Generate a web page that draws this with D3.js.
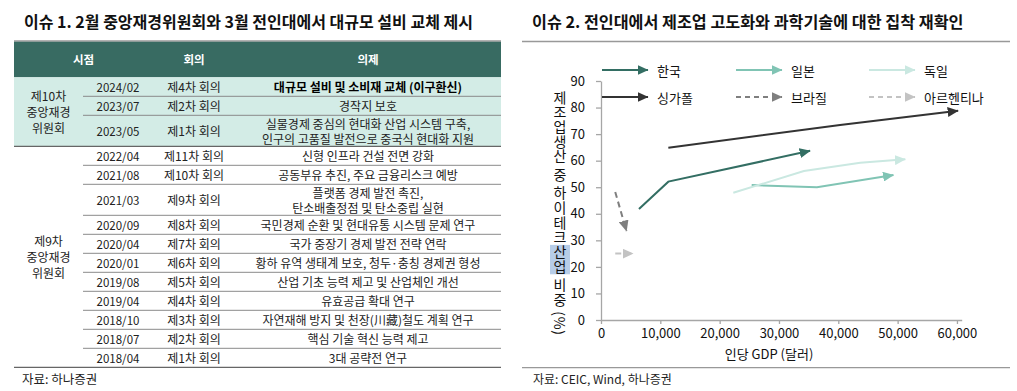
<!DOCTYPE html>
<html>
<head>
<meta charset="utf-8">
<script src="https://d3js.org/d3.v7.min.js"></script>
<style>
  body { margin: 0; background: #fff; }
  svg text { font-family: "Noto Sans CJK KR", sans-serif; }
</style>
</head>
<body>
<svg id="page" width="1017" height="391"></svg>
<script>
// ---------- table data ----------
var headers = ["시점", "회의", "의제"];
var groupLabels = ["제10차\n중앙재경\n위원회", "제9차\n중앙재경\n위원회"];
var rowGroup = [0, 0, 0, 1, 1, 1, 1, 1, 1, 1, 1, 1, 1, 1];
var dates = ["2024/02", "2023/07", "2023/05", "2022/04", "2021/08", "2021/03", "2020/09",
             "2020/04", "2020/01", "2019/08", "2019/04", "2018/10", "2018/07", "2018/04"];
var meetings = ["제4차 회의", "제2차 회의", "제1차 회의", "제11차 회의", "제10차 회의", "제9차 회의", "제8차 회의",
                "제7차 회의", "제6차 회의", "제5차 회의", "제4차 회의", "제3차 회의", "제2차 회의", "제1차 회의"];
var agenda = [
  "대규모 설비 및 소비재 교체 (이구환신)",
  "경작지 보호",
  "실물경제 중심의 현대화 산업 시스템 구축,\n인구의 고품질 발전으로 중국식 현대화 지원",
  "신형 인프라 건설 전면 강화",
  "공동부유 추진, 주요 금융리스크 예방",
  "플랫폼 경제 발전 촉진,\n탄소배출정점 및 탄소중립 실현",
  "국민경제 순환 및 현대유통 시스템 문제 연구",
  "국가 중장기 경제 발전 전략 연락",
  "황하 유역 생태계 보호, 청두·충칭 경제권 형성",
  "산업 기초 능력 제고 및 산업체인 개선",
  "유효공급 확대 연구",
  "자연재해 방지 및 천장(川藏)철도 계획 연구",
  "핵심 기술 혁신 능력 제고",
  "3대 공략전 연구"
];

// ---------- chart data: [1인당 GDP, 하이테크 비중] ----------
var korea     = [[6400, 41.8], [11350, 52.1], [35250, 63.7]];
var japan     = [[25400, 50.8], [36400, 50.0], [49300, 54.6]];
var germany   = [[22300, 47.9], [34200, 56.1], [43700, 59.2], [51300, 60.5]];
var singapore = [[11350, 64.9], [40300, 73.4], [60200, 78.8]];
var brazil    = [[2400, 48.2], [4300, 33.5]];
var argentina = [[2400, 25.0], [5400, 25.0]];
var yTicks = [0, 10, 20, 30, 40, 50, 60, 70, 80, 90];
var xTicks = [0, 10000, 20000, 30000, 40000, 50000, 60000];

var svg = d3.select("#page");

// ================= left: table =================
svg.append("text").attr("x", 24).attr("y", 28)
    .style("font-size", "16px").style("font-weight", "bold").attr("fill", "#111")
    .text("이슈 1. 2월 중앙재경위원회와 3월 전인대에서 대규모 설비 교체 제시");

var tL = 14, tR = 501, grpR = 83, dateR = 153, meetR = 235;
var headTop = 41, headBot = 77.3;

svg.append("line").attr("x1", tL).attr("x2", tR).attr("y1", headTop).attr("y2", headTop)
    .attr("stroke", "#999").attr("stroke-width", 1.5);
svg.append("rect").attr("x", tL).attr("y", headTop + 0.7).attr("width", tR - tL).attr("height", headBot - headTop - 0.7)
    .attr("fill", "#386b62");
var headX = [(tL + dateR) / 2, (dateR + meetR) / 2, (meetR + tR) / 2];
headers.forEach(function (h, i) {
    svg.append("text").attr("x", headX[i]).attr("y", (headTop + headBot) / 2)
        .attr("text-anchor", "middle").attr("dominant-baseline", "central")
        .style("font-size", "11.5px").style("font-weight", "bold").attr("fill", "#fff").text(h);
});

// row geometry from number of lines in the agenda text
var rows = [];
var yCur = headBot;
agenda.forEach(function (a, i) {
    var n = a.split("\n").length;
    var h = n > 1 ? 31 : 19;
    rows.push({ i: i, top: yCur, h: h, lines: a.split("\n") });
    yCur += h;
});

// highlighted section background
var g0 = rows.filter(function (r) { return rowGroup[r.i] === 0; });
var g0Bot = g0[g0.length - 1].top + g0[g0.length - 1].h;
svg.append("rect").attr("x", tL).attr("y", headBot).attr("width", tR - tL).attr("height", g0Bot - headBot)
    .attr("fill", "#d3ece6");

rows.forEach(function (r) {
    var cy = r.top + r.h / 2;
    svg.append("text").attr("x", (grpR + dateR) / 2).attr("y", cy)
        .attr("text-anchor", "middle").attr("dominant-baseline", "central")
        .style("font-size", "11.5px").attr("fill", "#222").text(dates[r.i]);
    svg.append("text").attr("x", (dateR + meetR) / 2).attr("y", cy)
        .attr("text-anchor", "middle").attr("dominant-baseline", "central")
        .style("font-size", "12px").attr("fill", "#222").text(meetings[r.i]);
    var t = svg.append("text").attr("text-anchor", "middle")
        .style("font-size", "12px").attr("fill", r.i === 0 ? "#000" : "#222")
        .style("font-weight", r.i === 0 ? "bold" : "normal");
    r.lines.forEach(function (ln, k) {
        t.append("tspan").attr("x", (meetR + tR) / 2)
            .attr("y", cy + (k - (r.lines.length - 1) / 2) * 15.5)
            .attr("dominant-baseline", "central").text(ln);
    });
    // bottom border of row
    var last = r.i === rows.length - 1;
    var sectionEnd = !last && rowGroup[r.i] !== rowGroup[r.i + 1];
    svg.append("line")
        .attr("x1", (last || sectionEnd) ? tL : grpR).attr("x2", tR)
        .attr("y1", r.top + r.h).attr("y2", r.top + r.h)
        .attr("stroke", (last || sectionEnd) ? "#666" : "#8a8a8a")
        .attr("stroke-width", (last || sectionEnd) ? 1.3 : 1);
});

// group labels
groupLabels.forEach(function (lbl, gi) {
    var rs = rows.filter(function (r) { return rowGroup[r.i] === gi; });
    var top = rs[0].top, bot = rs[rs.length - 1].top + rs[rs.length - 1].h;
    var lines = lbl.split("\n");
    var t = svg.append("text").attr("text-anchor", "middle")
        .style("font-size", "12px").attr("fill", "#222");
    lines.forEach(function (ln, k) {
        t.append("tspan").attr("x", (tL + grpR) / 2)
            .attr("y", (top + bot) / 2 + (k - (lines.length - 1) / 2) * 16)
            .attr("dominant-baseline", "central").text(ln);
    });
});

svg.append("text").attr("x", 22).attr("y", 384)
    .style("font-size", "12.5px").attr("fill", "#222").text("자료: 하나증권");

// ================= right: chart =================
svg.append("text").attr("x", 532).attr("y", 28)
    .style("font-size", "16.2px").style("font-weight", "bold").attr("fill", "#111")
    .text("이슈 2. 전인대에서 제조업 고도화와 과학기술에 대한 집착 재확인");
svg.append("line").attr("x1", 522).attr("x2", 1010).attr("y1", 41.5).attr("y2", 41.5)
    .attr("stroke", "#999").attr("stroke-width", 1.3);
svg.append("line").attr("x1", 522).attr("x2", 1010).attr("y1", 367.7).attr("y2", 367.7)
    .attr("stroke", "#999").attr("stroke-width", 1.3);
svg.append("text").attr("x", 533).attr("y", 384)
    .style("font-size", "12px").attr("fill", "#222").text("자료: CEIC, Wind, 하나증권");

var x = d3.scaleLinear().domain([0, 60800]).range([601, 961.7]);
var y = d3.scaleLinear().domain([0, 90]).range([320, 81]);

var yAxis = svg.append("g").attr("transform", "translate(601,0)")
    .call(d3.axisLeft(y).tickValues(yTicks).tickSize(5).tickSizeOuter(0).tickPadding(11));
var xAxis = svg.append("g").attr("transform", "translate(0,320)")
    .call(d3.axisBottom(x).tickValues(xTicks).tickFormat(d3.format(",")).tickSize(4).tickSizeOuter(0).tickPadding(5));
[yAxis, xAxis].forEach(function (ax) {
    ax.select(".domain").attr("stroke", "#a6a6a6").attr("stroke-width", 1.3);
    ax.selectAll(".tick line").attr("stroke", "#a6a6a6").attr("stroke-width", 1.3);
    ax.selectAll(".tick text").attr("fill", "#111").style("font-size", "13px")
        .style("font-family", "'Noto Sans CJK KR', sans-serif");
});

svg.append("text").attr("x", 769).attr("y", 353).attr("text-anchor", "middle")
    .attr("dominant-baseline", "central")
    .style("font-size", "13px").attr("fill", "#111").text("인당 GDP (달러)");

// vertical y-axis title
var yTitleBox = svg.append("g");
var yTitle = svg.append("text").attr("x", 560).attr("y", 213)
    .attr("text-anchor", "middle")
    .style("writing-mode", "vertical-rl")
    .style("letter-spacing", "0.7px")
    .style("font-size", "14px").attr("fill", "#111")
    .text("제조업생산 중 하이테크산업 비중 (%)");
try {
    var node = yTitle.node();
    var a = node.getExtentOfChar(12), b = node.getExtentOfChar(13);
    var x0 = Math.min(a.x, b.x), y0 = Math.min(a.y, b.y);
    var x1 = Math.max(a.x + a.width, b.x + b.width), y1 = Math.max(a.y + a.height, b.y + b.height);
    yTitleBox.append("rect").attr("x", x0).attr("y", y0).attr("width", x1 - x0).attr("height", y1 - y0)
        .attr("fill", "#b7cde8");
} catch (e) {}

// series
var series = [
    { name: "한국", data: korea, color: "#336e63", dash: null },
    { name: "일본", data: japan, color: "#80c4b4", dash: null },
    { name: "독일", data: germany, color: "#cae8e1", dash: null },
    { name: "싱가폴", data: singapore, color: "#333333", dash: null },
    { name: "브라질", data: brazil, color: "#7f7f7f", dash: "6,4" },
    { name: "아르헨티나", data: argentina, color: "#c3c3c3", dash: "6,4" }
];

var defs = svg.append("defs");
series.forEach(function (s, i) {
    defs.append("marker").attr("id", "arr" + i)
        .attr("viewBox", "0 0 11 10").attr("refX", 10.5).attr("refY", 5)
        .attr("markerWidth", 11).attr("markerHeight", 10)
        .attr("markerUnits", "userSpaceOnUse").attr("orient", "auto")
        .append("path").attr("d", "M0,0 L11,5 L0,10 Z").attr("fill", s.color);
});

var line = d3.line().x(function (d) { return x(d[0]); }).y(function (d) { return y(d[1]); });
series.forEach(function (s, i) {
    svg.append("path").datum(s.data).attr("d", line)
        .attr("fill", "none").attr("stroke", s.color).attr("stroke-width", 2)
        .attr("stroke-dasharray", s.dash)
        .attr("marker-end", "url(#arr" + i + ")");
});

// legend
var legX = [602, 736, 869], legY = [70, 97];
series.forEach(function (s, i) {
    var lx = legX[i % 3], ly = legY[Math.floor(i / 3)];
    svg.append("line").attr("x1", lx).attr("x2", lx + 46).attr("y1", ly).attr("y2", ly)
        .attr("stroke", s.color).attr("stroke-width", 2)
        .attr("stroke-dasharray", s.dash ? "5,4" : null)
        .attr("marker-end", "url(#arr" + i + ")");
    svg.append("text").attr("x", lx + 55).attr("y", ly).attr("dominant-baseline", "central")
        .style("font-size", "13px").attr("fill", "#111").text(s.name);
});
</script>
</body>
</html>
